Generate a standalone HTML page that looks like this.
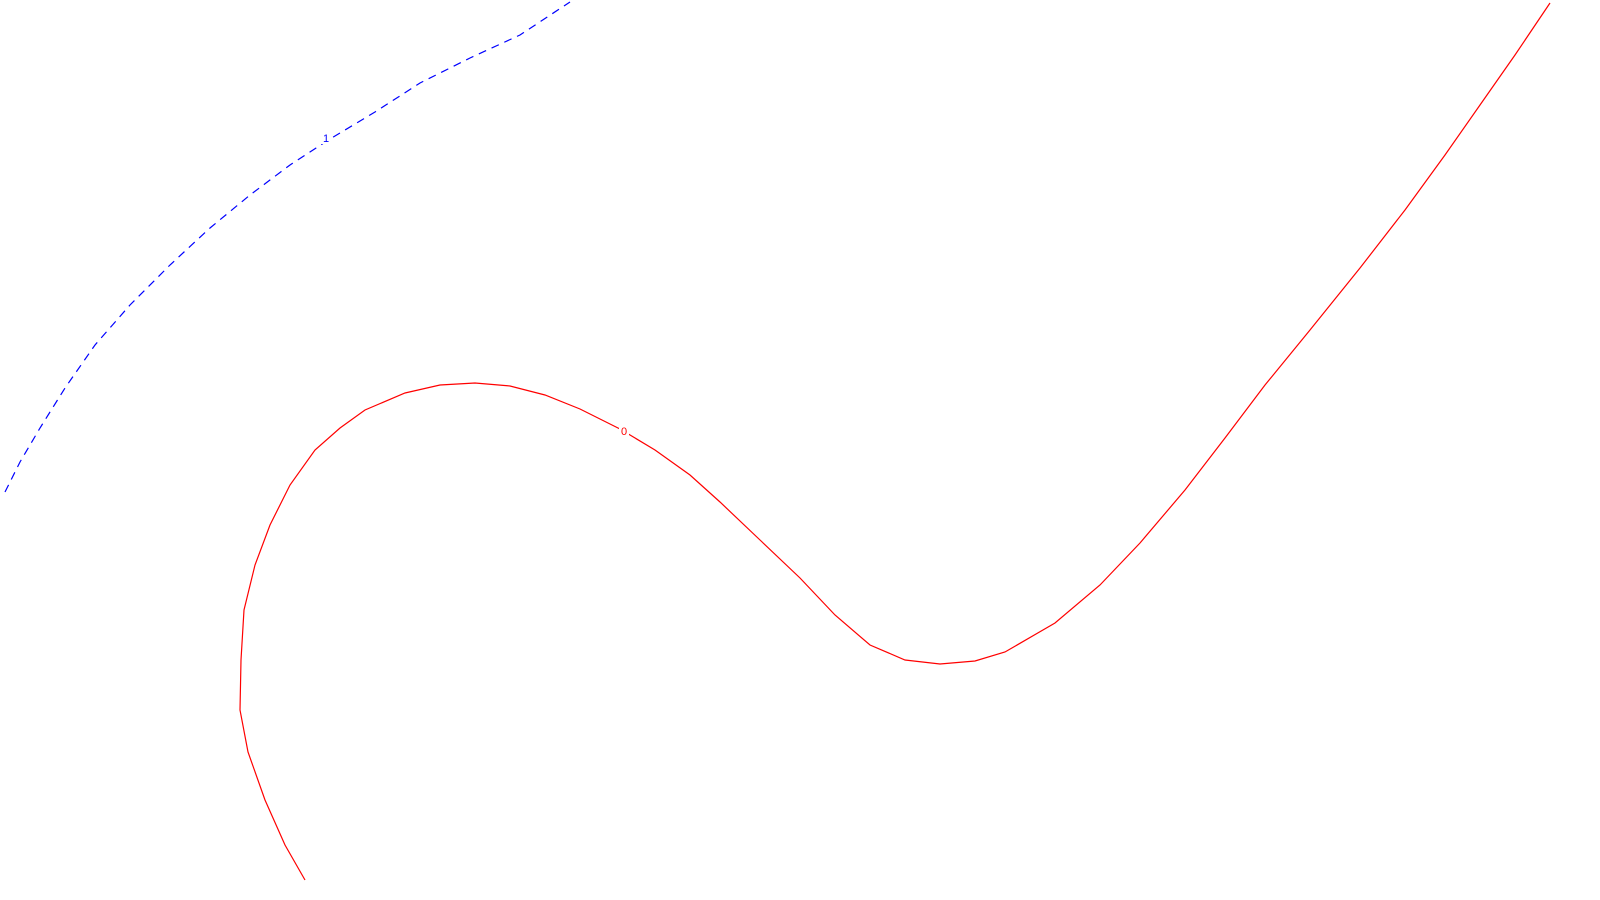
<!DOCTYPE html>
<html><head><meta charset="utf-8"><style>
html,body{margin:0;padding:0;background:#fff;width:1600px;height:900px;overflow:hidden}
svg{display:block}
text{font-family:"Liberation Sans",sans-serif}
</style></head><body>
<svg id="chart" width="1600" height="900" viewBox="0 0 1600 900"></svg>
<script>
// contour level values
const levels = [0, 1];
// contour level 0 (x, y in data units, domain 0..1600 x 0..900)
const contour0X = [305,285,265,248,240,241,244,255,270,290,315,340,365,405,440,475,510,545,580,620,655,690,720,760,800,835,870,905,940,975,1005,1055,1100,1140,1185,1225,1265,1310,1360,1405,1445,1480,1515,1550];
const contour0Y = [880,845,800,752,710,660,610,565,525,485,450,428,410,393,385,383,386,395,409,429,450,475,502,540,578,615,645,660,664,661,652,623,585,543,490,438,385,330,268,210,155,105,55,3];
// contour level 1
const contour1X = [5,20,40,65,95,130,170,210,250,290,330,375,420,470,520,570];
const contour1Y = [492,462,428,388,345,305,265,228,195,165,139,112,83,58,35,2];
// label anchor positions (data units)
const labelX = [624, 326];
const labelY = [431, 138];

const xs = v => v * 1600 / 1600;
const ys = v => v * 900 / 900;
const svg = document.getElementById('chart');
const NS = 'http://www.w3.org/2000/svg';

function drawContour(X, Y, color, dash, name) {
  const p = document.createElementNS(NS, 'polyline');
  
  
  p.setAttribute('points', X.map((x, i) => xs(x) + ',' + ys(Y[i])).join(' '));
  p.setAttribute('fill', 'none');
  p.setAttribute('stroke', color);
  p.setAttribute('stroke-width', '1.2');
  if (dash) p.setAttribute('stroke-dasharray', dash);
  svg.appendChild(p);
}
drawContour(contour0X, contour0Y, '#ff0000', null, 'contour-level-0');
drawContour(contour1X, contour1Y, '#0000ff', '8,6', 'contour-level-1');

const colors = ['#ff0000', '#0000ff'];
levels.forEach((lv, i) => {
  const r = document.createElementNS(NS, 'rect');
  
  
  r.setAttribute('x', xs(labelX[i]) - 5);
  r.setAttribute('y', ys(labelY[i]) - 6);
  r.setAttribute('width', 10);
  r.setAttribute('height', 12);
  r.setAttribute('fill', '#fff');
  svg.appendChild(r);
  const t = document.createElementNS(NS, 'text');
  
  
  t.setAttribute('x', xs(labelX[i]));
  t.setAttribute('y', ys(labelY[i]) + 4);
  t.setAttribute('text-anchor', 'middle');
  t.setAttribute('font-size', '11');
  t.setAttribute('fill', colors[i]);
  t.textContent = String(lv);
  svg.appendChild(t);
});
</script>
</body></html>
